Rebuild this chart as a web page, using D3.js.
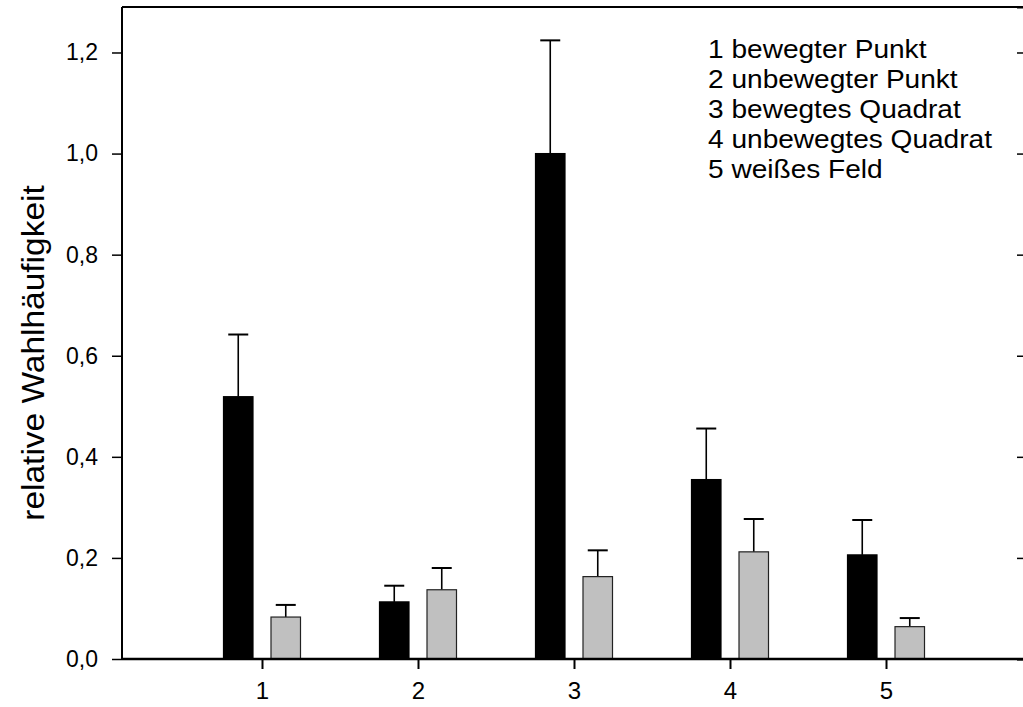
<!DOCTYPE html>
<html>
<head>
<meta charset="utf-8">
<script src="https://cdn.jsdelivr.net/npm/d3@7"></script>
<style>
  body { margin: 0; background: #fff; }
  svg text { font-family: "Liberation Sans", Arial, Helvetica, sans-serif; fill: #000; }
</style>
</head>
<body>
<div id="container"></div>
<script>
// Data
const categories = [1, 2, 3, 4, 5];
const series = ["dark", "light"];
const darkValues = [0.519, 0.113, 1.0, 0.355, 0.206];
const darkErrors = [0.123, 0.032, 0.224, 0.101, 0.069];
const lightValues = [0.083, 0.137, 0.163, 0.212, 0.064];
const lightErrors = [0.024, 0.043, 0.052, 0.065, 0.017];
const yTicks = [0, 0.2, 0.4, 0.6, 0.8, 1.0, 1.2];
const legendLines = ["1 bewegter Punkt", "2 unbewegter Punkt", "3 bewegtes Quadrat", "4 unbewegtes Quadrat", "5 weißes Feld"];

const width = 1023;
const height = 707;
const plotLeft = 122, plotRight = 1026, plotTop = 7, plotBottom = 659;
const stretch = 1.08; // text in the original is a bit wider than Arial

const svg = d3.select("#container")
    .append("svg")
    .attr("width", width)
    .attr("height", height);

// Scales
const x = d3.scaleLinear().domain([0.1026, 5.8974]).range([plotLeft, plotRight]);
const y = d3.scaleLinear().domain([0, 1.29]).range([plotBottom, plotTop]);
const inner = d3.scaleBand().domain(series).range([-38.5, 38.5]).paddingInner(0.379);
const fills = {dark: "#000", light: "#c0c0c0"};

// Build rows
const rows = [];
categories.forEach((c, i) => {
    rows.push({cat: c, s: "dark", v: darkValues[i], e: darkErrors[i]});
    rows.push({cat: c, s: "light", v: lightValues[i], e: lightErrors[i]});
});

const cx = d => x(d.cat) + inner(d.s) + inner.bandwidth() / 2;

// Error bars (drawn first so bars sit on top)
const err = svg.append("g");
err.selectAll("line.stem")
    .data(rows)
    .join("line")
    .attr("class", "stem")
    .attr("x1", cx)
    .attr("x2", cx)
    .attr("y1", d => y(d.v))
    .attr("y2", d => y(d.v + d.e))
    .attr("stroke", "#000")
    .attr("stroke-width", 1.6);
err.selectAll("line.cap")
    .data(rows)
    .join("line")
    .attr("class", "cap")
    .attr("x1", d => cx(d) - 10)
    .attr("x2", d => cx(d) + 10)
    .attr("y1", d => y(d.v + d.e))
    .attr("y2", d => y(d.v + d.e))
    .attr("stroke", "#000")
    .attr("stroke-width", 2);

// Bars
svg.append("g")
    .selectAll("rect")
    .data(rows)
    .join("rect")
    .attr("x", d => x(d.cat) + inner(d.s))
    .attr("y", d => y(d.v))
    .attr("width", inner.bandwidth())
    .attr("height", d => y(0) - y(d.v))
    .attr("fill", d => fills[d.s])
    .attr("stroke", d => d.s === "dark" ? "#000" : "#222")
    .attr("stroke-width", 1.2);

// Frame: top line and right axis
svg.append("line")
    .attr("x1", plotLeft).attr("x2", plotRight)
    .attr("y1", plotTop).attr("y2", plotTop)
    .attr("stroke", "#000").attr("stroke-width", 2);

const rightAxis = svg.append("g")
    .attr("transform", `translate(${plotRight},0)`)
    .call(d3.axisLeft(y).tickValues(yTicks).tickSize(9).tickFormat(""));
rightAxis.select(".domain").attr("stroke-width", 2);
rightAxis.selectAll(".tick line").attr("stroke-width", 1.5);

// Left axis
const yAxis = svg.append("g")
    .attr("transform", `translate(${plotLeft},0)`)
    .call(d3.axisLeft(y).tickValues(yTicks).tickSize(10).tickPadding(14)
        .tickFormat(d => d3.format(".1f")(d).replace(".", ",")));
yAxis.select(".domain").attr("stroke-width", 2).attr("d", `M0,${plotBottom}V${plotTop}`);
yAxis.selectAll(".tick line").attr("stroke-width", 1.5);
yAxis.selectAll(".tick text").style("font-size", "23px").attr("fill", "#000");

// Bottom axis
const xAxis = svg.append("g")
    .attr("transform", `translate(0,${plotBottom})`)
    .call(d3.axisBottom(x).tickValues(categories).tickSize(10).tickPadding(13).tickFormat(d3.format("d")));
xAxis.select(".domain").attr("stroke-width", 2.5).attr("d", `M${plotLeft},0H${plotRight}`);
xAxis.selectAll(".tick line").attr("stroke-width", 2);
xAxis.selectAll(".tick text").style("font-size", "24px").attr("fill", "#000");

// Y axis title
svg.append("text")
    .attr("transform", `translate(44,353) rotate(-90) scale(${stretch},1)`)
    .attr("text-anchor", "middle")
    .style("font-size", "31px")
    .text("relative Wahlhäufigkeit");

// Legend text
svg.append("g")
    .selectAll("text")
    .data(legendLines)
    .join("text")
    .attr("transform", (d, i) => `translate(708,${58 + i * 30}) scale(${stretch},1)`)
    .style("font-size", "26px")
    .text(d => d);
</script>
</body>
</html>
